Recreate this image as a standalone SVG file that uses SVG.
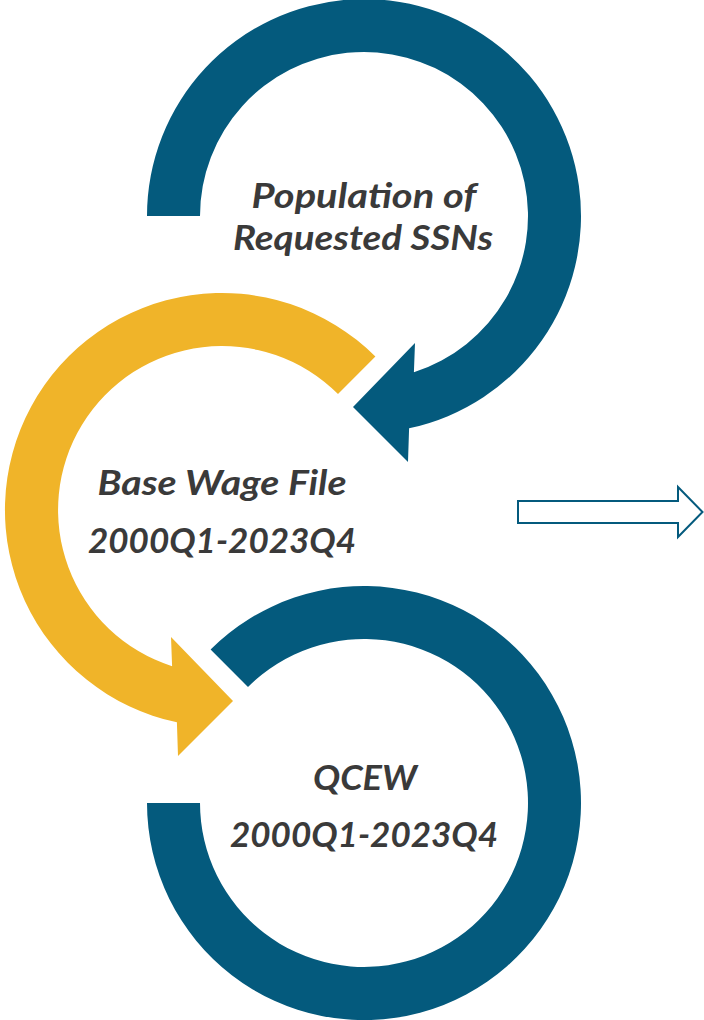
<svg xmlns="http://www.w3.org/2000/svg" width="704" height="1020" viewBox="0 0 704 1020">
  <style>
    .blue { fill: #045A7D; }
    .yellow { fill: #F0B429; }
    .lbl { font-family: Lato, "Open Sans", "Liberation Sans", sans-serif; font-weight: bold; font-style: italic; font-size: 35px; fill: #3A3A3A; text-anchor: middle; }
    .outline { fill: #FFFFFF; stroke: #045A7D; stroke-width: 2; stroke-linejoin: miter; }
  </style>
  <rect x="0" y="0" width="704" height="1020" fill="#FFFFFF"/>
  <g id="node-population">
    <path class="blue" d="M 147,216 A 217 217 0 1 1 409.1,428.3 L 408,462 L 353,407 L 415,343 L 413.9,372.2 A 164 164 0 1 0 200,216 Z"/>
    <text class="lbl" x="364" y="208" textLength="225" lengthAdjust="spacingAndGlyphs">Population of</text>
    <text class="lbl" x="363" y="250" textLength="260" lengthAdjust="spacingAndGlyphs">Requested SSNs</text>
  </g>
  <g id="node-basewage">
    <path class="yellow" d="M 375.4,356.6 A 217 217 0 1 0 176.9,722.3 L 178,756 L 233,701 L 171,637 L 172.1,666.2 A 164 164 0 1 1 338.0,394.0 Z"/>
    <text class="lbl" x="222" y="495" textLength="249" lengthAdjust="spacingAndGlyphs">Base Wage File</text>
    <text class="lbl" x="222" y="553" textLength="268" lengthAdjust="spacingAndGlyphs">2000Q1-2023Q4</text>
  </g>
  <g id="node-qcew">
    <path class="blue" d="M 210.6,649.6 A 217 217 0 1 1 147,803 L 200,803 A 164 164 0 1 0 248.0,687.0 Z"/>
    <text class="lbl" x="365" y="790" textLength="104" lengthAdjust="spacingAndGlyphs">QCEW</text>
    <text class="lbl" x="364" y="847" textLength="268" lengthAdjust="spacingAndGlyphs">2000Q1-2023Q4</text>
  </g>
  <g id="connectors">
    <polygon class="outline" points="518,501 678,501 678,487 702.5,512 678,537 678,523 518,523"/>
  </g>
</svg>
